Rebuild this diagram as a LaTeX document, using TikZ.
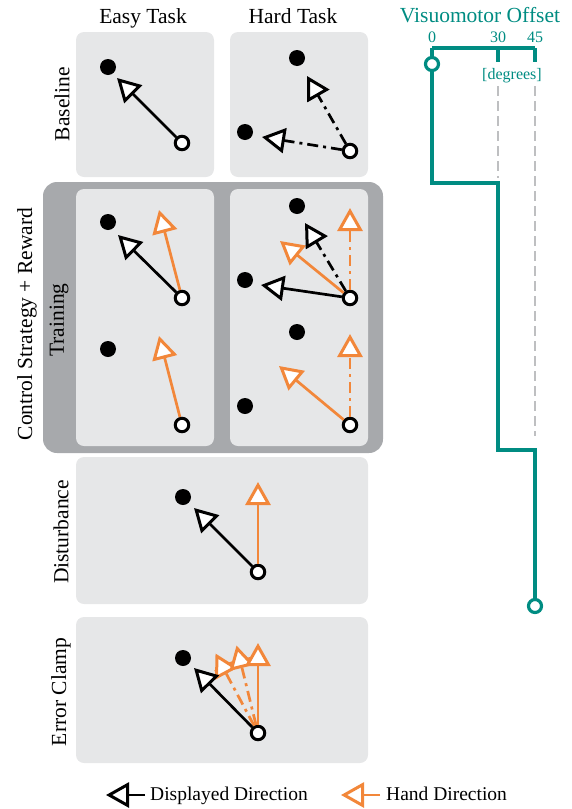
\documentclass[tikz,border=0pt]{standalone}
\usepackage{fontspec}
\setmainfont{Liberation Serif}
\usetikzlibrary{arrows.meta}
\definecolor{panelgray}{RGB}{230,231,232}
\definecolor{outergray}{RGB}{167,169,172}
\definecolor{handorange}{RGB}{242,135,58}
\definecolor{vmteal}{RGB}{0,140,130}
\definecolor{dashgray}{RGB}{190,191,193}
\tikzset{
  lbl/.style={font=\fontsize{21.5}{25}\selectfont, inner sep=0pt},
  small/.style={font=\fontsize{16}{19}\selectfont, inner sep=0pt},
  leg/.style={font=\fontsize{19.5}{23}\selectfont, inner sep=0pt},
  panel/.style={fill=panelgray, rounded corners=8pt},
  target/.style={circle, fill=black, inner sep=0pt, minimum size=16pt},
  startpt/.style={circle, draw=black, fill=white, line width=3pt, inner sep=0pt, minimum size=13.5pt},
  tip/.style={-{Triangle[length=23pt,width=25pt,fill=white,line width=3pt]}},
  disp/.style={line width=2.7pt, draw=black, line join=miter, tip},
  hand/.style={line width=2.7pt, draw=handorange, line join=miter, tip},
  dd/.style={dash pattern=on 11pt off 5pt on 3pt off 5pt},
  vmline/.style={line width=3.4pt, draw=vmteal},
  vmpt/.style={circle, draw=vmteal, fill=white, line width=3.2pt, inner sep=0pt, minimum size=13pt},
  gdash/.style={line width=2.7pt, draw=dashgray, dash pattern=on 10pt off 5pt}
}
\begin{document}
\begin{tikzpicture}[x=1pt,y=-1pt]
\useasboundingbox (0,0) rectangle (571,809);
% panels
\fill[outergray, rounded corners=14pt] (43,182) rectangle (383,453);
\path[panel] (76,32) rectangle (214,177);
\path[panel] (230,32) rectangle (368,177);
\path[panel] (76,189) rectangle (214,446);
\path[panel] (230,189) rectangle (368,446);
\path[panel] (76,457) rectangle (368,604);
\path[panel] (76,617) rectangle (368,763);
% headings
\node[lbl, anchor=base] (hE) at (143,23) {Easy Task};
\node[lbl, anchor=base] (hH) at (293,23) {Hard Task};
\node[lbl, rotate=90] (rB) at (62,104) {Baseline};
\node[lbl, rotate=90] (rC) at (27,324) {Control Strategy + Reward};
\node[lbl, rotate=90] (rT) at (59,320) {Training};
\node[lbl, rotate=90] (rD) at (61,532) {Disturbance};
\node[lbl, rotate=90] (rE) at (61,692) {Error Clamp};
% ---------- Baseline easy
\node[target] (beT) at (108,67) {};
\node[startpt] (beS) at (182,143) {};
\coordinate (beA) at (117,78);
\draw[disp] (beS) -- (beA);
% ---------- Baseline hard
\node[target] (bhT1) at (297,58) {};
\node[target] (bhT2) at (245,132) {};
\node[startpt] (bhS) at (350,151) {};
\coordinate (bhA1) at (307,76);
\coordinate (bhA2) at (262,137);
\draw[disp, dd] (bhS) -- (bhA1);
\draw[disp, dd] (bhS) -- (bhA2);
% ---------- Training easy
\node[target] (teT1) at (108,222) {};
\node[startpt] (teS1) at (182,298) {};
\coordinate (teA1) at (118,235);
\coordinate (teH1) at (159,210);
\draw[disp] (teS1) -- (teA1);
\draw[hand] (teS1) -- (teH1);
\node[target] (teT2) at (108,349) {};
\node[startpt] (teS2) at (182,425) {};
\coordinate (teH2) at (159,336);
\draw[hand] (teS2) -- (teH2);
% ---------- Training hard
\node[target] (thT1) at (297,206) {};
\node[target] (thT2) at (245,280) {};
\node[startpt] (thS1) at (350,298) {};
\coordinate (thA1) at (305,223);
\coordinate (thA2) at (261,285);
\coordinate (thH1) at (350,208);
\coordinate (thH2) at (280,241);
\draw[hand] (thS1) -- (thH2);
\draw[hand, dd] (thS1) -- (thH1);
\draw[disp] (thS1) -- (thA2);
\draw[disp, dd] (thS1) -- (thA1);
\node[target] (thT3) at (297,332) {};
\node[target] (thT4) at (245,406) {};
\node[startpt] (thS2) at (350,425) {};
\coordinate (thH3) at (350,334);
\coordinate (thH4) at (279,366);
\draw[hand] (thS2) -- (thH4);
\draw[hand, dd] (thS2) -- (thH3);
% ---------- Disturbance
\node[target] (dT) at (183,497) {};
\node[startpt] (dS) at (258,572) {};
\coordinate (dA) at (194,508);
\coordinate (dH) at (258,482);
\draw[hand] (dS) -- (dH);
\draw[disp] (dS) -- (dA);
% ---------- Error clamp
\node[target] (eT) at (183,658) {};
\node[startpt] (eS) at (258,733) {};
\coordinate (eA) at (194,668);
\coordinate (eH1) at (258,643);
\coordinate (eH2) at (236.5,645.5);
\coordinate (eH3) at (215.5,653.5);
\coordinate (arcA) at (258,658);
\coordinate (arcB) at (215,671.6);
\draw[line width=2.7pt, handorange] (arcA) .. controls (242.6,658) and (227.6,662.8) .. (arcB);
\draw[hand, dd] (eS) -- (eH3);
\draw[hand, dd] (eS) -- (eH2);
\draw[hand] (eS) -- (eH1);
\draw[disp] (eS) -- (eA);
% ---------- Legend
\coordinate (lg1a) at (145,795);
\coordinate (lg1b) at (106,795);
\draw[disp] (lg1a) -- (lg1b);
\node[leg, anchor=base west] (lgt1) at (150,800) {Displayed Direction};
\coordinate (lg2a) at (380,795);
\coordinate (lg2b) at (341,795);
\draw[hand] (lg2a) -- (lg2b);
\node[leg, anchor=base west] (lgt2) at (386,800) {Hand Direction};
% ---------- Visuomotor offset
\node[lbl, anchor=base, text=vmteal] (vmT) at (480,22) {Visuomotor Offset};
\node[small, anchor=base, text=vmteal] (v0) at (432,42) {0};
\node[small, anchor=base, text=vmteal] (v30) at (498,42) {30};
\node[small, anchor=base, text=vmteal] (v45) at (535,42) {45};
\node[small, anchor=base, text=vmteal] (vdeg) at (512,79.5) {[degrees]};
\draw[gdash] (498,86) -- (498,178);
\draw[gdash] (535,86) -- (535,436);
\coordinate (b0) at (432,48);
\coordinate (b30) at (498,48);
\coordinate (b45) at (535,48);
\coordinate (k30) at (498,62);
\coordinate (k45) at (535,62);
\draw[vmline] (b0) -- (b45);
\draw[vmline] (b30) -- (k30);
\draw[vmline] (b45) -- (k45);
\node[vmpt] (vS) at (432,64) {};
\node[vmpt] (vE) at (535,606) {};
\draw[vmline] (b0) -- (vS);
\draw[vmline, line join=miter] (vS) -- (432,183) -- (498,183) -- (498,450) -- (535,450) -- (vE);
\end{tikzpicture}
\end{document}
